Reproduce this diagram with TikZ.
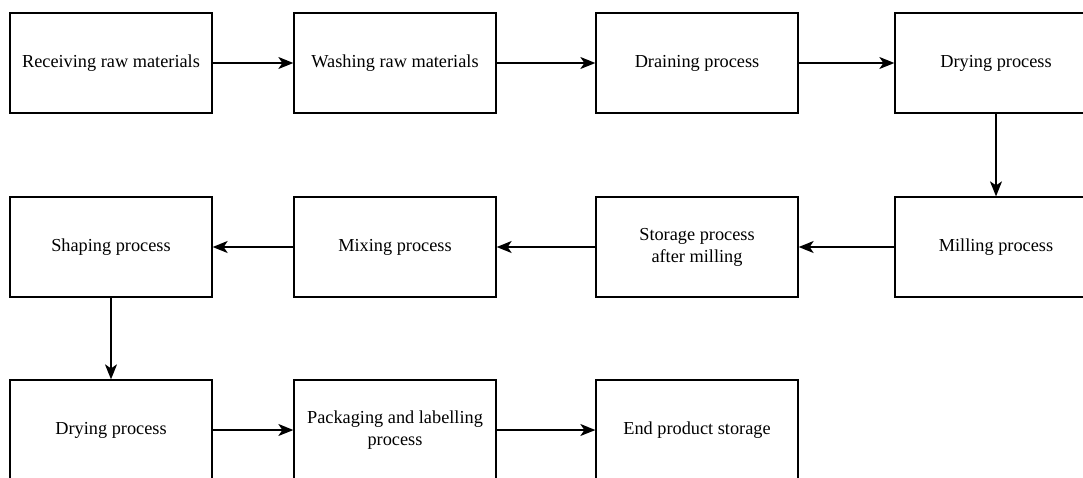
\documentclass[tikz,border=0pt]{standalone}
\usepackage{fontspec}
\setmainfont{Liberation Serif}
\usetikzlibrary{arrows.meta}

\tikzset{
  stagebox/.style={draw, line width=1.3pt, minimum width=202pt, minimum height=100pt,
    inner sep=0pt, align=center, font=\fontsize{18.3}{22}\selectfont},
  flowarrow/.style={line width=1.3pt, -{Stealth[length=15pt,width=12pt,inset=4pt]}}
}

\begin{document}
\begin{tikzpicture}[x=1pt,y=-1pt]
 \useasboundingbox (0,0) rectangle (1083,477);
 \clip (0,0) rectangle (1083,477);
 % first row
 \node[stagebox] (receive) at (111,63) {Receiving raw materials};
 \node[stagebox] (wash) at (395,63) {Washing raw materials};
 \node[stagebox] (drain) at (697,63) {Draining process};
 \node[stagebox] (dryA) at (996,63) {Drying process};
 % second row
 \node[stagebox] (mill) at (996,247) {Milling process};
 \node[stagebox] (store) at (697,247) {Storage process\\after milling};
 \node[stagebox] (mix) at (395,247) {Mixing process};
 \node[stagebox] (shape) at (111,247) {Shaping process};
 % third row
 \node[stagebox] (dryB) at (111,430) {Drying process};
 \node[stagebox] (pack) at (395,430) {Packaging and labelling\\process};
 \node[stagebox] (endstore) at (697,430) {End product storage};
 % connectors
 \draw[flowarrow] (receive) -- (wash);
 \draw[flowarrow] (wash) -- (drain);
 \draw[flowarrow] (drain) -- (dryA);
 \draw[flowarrow] (dryA) -- (mill);
 \draw[flowarrow] (mill) -- (store);
 \draw[flowarrow] (store) -- (mix);
 \draw[flowarrow] (mix) -- (shape);
 \draw[flowarrow] (shape) -- (dryB);
 \draw[flowarrow] (dryB) -- (pack);
 \draw[flowarrow] (pack) -- (endstore);
\end{tikzpicture}
\end{document}
